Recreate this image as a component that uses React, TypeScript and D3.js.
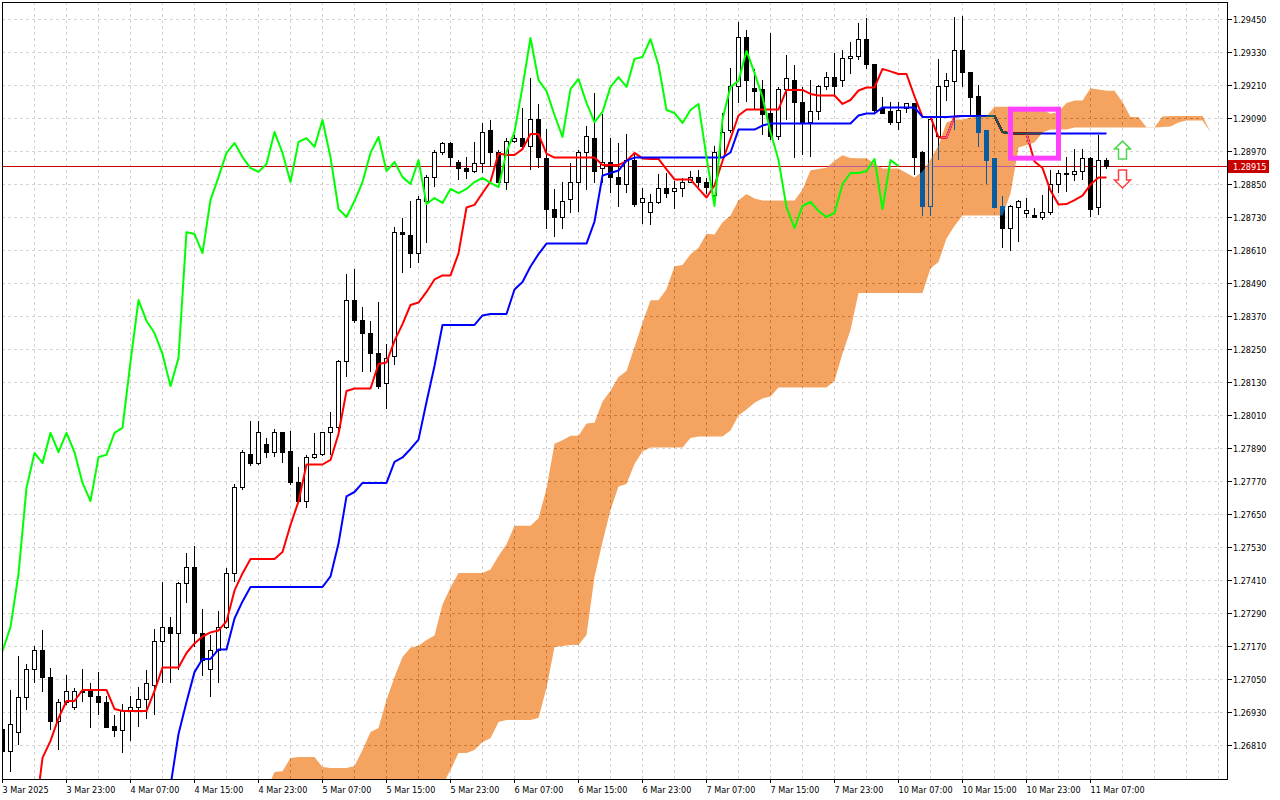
import React, { useEffect } from 'react';
import * as d3 from 'd3';

// GBPUSD H1, 3 Mar 2025 15:00 .. 11 Mar 2025 09:00 (one entry per bar)
const opens = [
  1.26868, 1.26785, 1.26854, 1.26981, 1.27083, 1.27155, 1.27054, 1.26897, 1.26963, 1.26948,
  1.27006, 1.27006, 1.26988, 1.26966, 1.26879, 1.26861, 1.26934, 1.26948, 1.26974, 1.27028,
  1.27188, 1.27239, 1.27217, 1.27399, 1.27457, 1.27217, 1.27086, 1.27152, 1.27239, 1.27432,
  1.27745, 1.27868, 1.27835, 1.27901, 1.27875, 1.27945, 1.27879, 1.27763, 1.27694, 1.27854,
  1.27865, 1.27945, 1.27963, 1.28203, 1.28428, 1.28352, 1.28308, 1.28235, 1.28126, 1.28221,
  1.28675, 1.28661, 1.28599, 1.28785, 1.28875, 1.28963, 1.28999, 1.28930, 1.28908, 1.28894,
  1.28923, 1.29046, 1.28963, 1.28857, 1.29003, 1.29017, 1.28985, 1.29083, 1.28941, 1.28759,
  1.28730, 1.28792, 1.28857, 1.28963, 1.29017, 1.28905, 1.28930, 1.28872, 1.28850, 1.28937,
  1.28781, 1.28745, 1.28781, 1.28832, 1.28821, 1.28832, 1.28857, 1.28872, 1.28854, 1.28810,
  1.28948, 1.29046, 1.29203, 1.29381, 1.29199, 1.29195, 1.29105, 1.29021, 1.29195, 1.29228,
  1.29145, 1.29075, 1.29112, 1.29203, 1.29239, 1.29225, 1.29308, 1.29312, 1.29377, 1.29283,
  1.29123, 1.29112, 1.29072, 1.29123, 1.29141, 1.28966, 1.28770, 1.29021, 1.29203, 1.29221,
  1.29334, 1.29254, 1.29170, 1.29043, 1.28941, 1.28770, 1.28690, 1.28766, 1.28741, 1.28734,
  1.28730, 1.28745, 1.28850, 1.28886, 1.28886, 1.28894, 1.28941, 1.28763, 1.28937,
];
const highs = [
  1.26883, 1.27010, 1.27134, 1.27105, 1.27170, 1.27228, 1.27090, 1.26977, 1.27065, 1.27017,
  1.27086, 1.27035, 1.27075, 1.26988, 1.26919, 1.26959, 1.26988, 1.27021, 1.27083, 1.27232,
  1.27403, 1.27275, 1.27403, 1.27508, 1.27534, 1.27305, 1.27210, 1.27297, 1.27454, 1.27759,
  1.27883, 1.27988, 1.27988, 1.27926, 1.27959, 1.27948, 1.27952, 1.27821, 1.27865, 1.27945,
  1.27948, 1.28021, 1.28210, 1.28523, 1.28541, 1.28403, 1.28352, 1.28421, 1.28268, 1.28694,
  1.28726, 1.28788, 1.28806, 1.28883, 1.28974, 1.29003, 1.29003, 1.28937, 1.28948, 1.29003,
  1.29072, 1.29083, 1.28974, 1.29017, 1.29028, 1.29126, 1.29235, 1.29141, 1.29050, 1.28832,
  1.28857, 1.28926, 1.28974, 1.29061, 1.29181, 1.29105, 1.29017, 1.28999, 1.29032, 1.28966,
  1.28835, 1.28814, 1.28886, 1.28890, 1.28861, 1.28872, 1.28897, 1.28901, 1.28872, 1.28988,
  1.29108, 1.29272, 1.29439, 1.29410, 1.29268, 1.29228, 1.29399, 1.29203, 1.29319, 1.29283,
  1.29203, 1.29228, 1.29210, 1.29257, 1.29326, 1.29337, 1.29366, 1.29435, 1.29454, 1.29286,
  1.29166, 1.29148, 1.29148, 1.29145, 1.29145, 1.28970, 1.29094, 1.29305, 1.29254, 1.29457,
  1.29461, 1.29257, 1.29210, 1.29046, 1.28945, 1.28806, 1.28774, 1.28792, 1.28799, 1.28763,
  1.28810, 1.28901, 1.28901, 1.28948, 1.28977, 1.28977, 1.28948, 1.29028, 1.28945,
];
const lows = [
  1.26712, 1.26712, 1.26810, 1.26937, 1.27035, 1.27003, 1.26865, 1.26792, 1.26955, 1.26937,
  1.26966, 1.26872, 1.26919, 1.26872, 1.26839, 1.26781, 1.26825, 1.26875, 1.26905, 1.26919,
  1.27035, 1.27035, 1.27083, 1.27326, 1.27166, 1.27061, 1.26985, 1.27035, 1.27232, 1.27403,
  1.27737, 1.27825, 1.27828, 1.27854, 1.27857, 1.27835, 1.27755, 1.27694, 1.27672, 1.27850,
  1.27861, 1.27865, 1.27955, 1.28148, 1.28345, 1.28166, 1.28166, 1.28105, 1.28032, 1.28192,
  1.28526, 1.28545, 1.28563, 1.28635, 1.28839, 1.28955, 1.28912, 1.28865, 1.28868, 1.28890,
  1.28890, 1.28912, 1.28854, 1.28828, 1.28999, 1.28981, 1.28901, 1.28908, 1.28686, 1.28657,
  1.28686, 1.28745, 1.28748, 1.28828, 1.28854, 1.28854, 1.28817, 1.28766, 1.28817, 1.28766,
  1.28705, 1.28701, 1.28777, 1.28799, 1.28759, 1.28803, 1.28854, 1.28839, 1.28814, 1.28803,
  1.28945, 1.29035, 1.29145, 1.29148, 1.29119, 1.29028, 1.29010, 1.29010, 1.29083, 1.28945,
  1.28955, 1.28948, 1.29083, 1.29192, 1.29166, 1.29203, 1.29250, 1.29301, 1.29268, 1.29108,
  1.29105, 1.29065, 1.29046, 1.29108, 1.28883, 1.28734, 1.28734, 1.28937, 1.29152, 1.29046,
  1.29203, 1.29101, 1.28985, 1.28850, 1.28763, 1.28617, 1.28606, 1.28639, 1.28726, 1.28726,
  1.28719, 1.28737, 1.28817, 1.28821, 1.28861, 1.28865, 1.28730, 1.28737, 1.28905,
];
const closes = [
  1.26785, 1.26886, 1.26981, 1.27083, 1.27155, 1.27054, 1.26897, 1.26966, 1.27003, 1.27003,
  1.27003, 1.26985, 1.26963, 1.26875, 1.26861, 1.26934, 1.26948, 1.26977, 1.27032, 1.27188,
  1.27239, 1.27217, 1.27399, 1.27457, 1.27217, 1.27119, 1.27152, 1.27239, 1.27432, 1.27745,
  1.27872, 1.27835, 1.27945, 1.27875, 1.27945, 1.27875, 1.27763, 1.27697, 1.27857, 1.27865,
  1.27945, 1.27963, 1.28203, 1.28428, 1.28352, 1.28308, 1.28232, 1.28115, 1.28217, 1.28675,
  1.28668, 1.28599, 1.28792, 1.28875, 1.28963, 1.28999, 1.28948, 1.28908, 1.28894, 1.28923,
  1.29039, 1.28963, 1.28857, 1.29003, 1.29017, 1.28985, 1.29083, 1.28948, 1.28759, 1.28730,
  1.28788, 1.28857, 1.28963, 1.29021, 1.28897, 1.28930, 1.28875, 1.28850, 1.28937, 1.28777,
  1.28799, 1.28781, 1.28832, 1.28817, 1.28832, 1.28857, 1.28872, 1.28854, 1.28839, 1.28966,
  1.29039, 1.29203, 1.29381, 1.29228, 1.29188, 1.29101, 1.29021, 1.29195, 1.29232, 1.29145,
  1.29075, 1.29112, 1.29203, 1.29239, 1.29203, 1.29305, 1.29312, 1.29377, 1.29283, 1.29119,
  1.29108, 1.29072, 1.29119, 1.29141, 1.28948, 1.28770, 1.29086, 1.29203, 1.29225, 1.29334,
  1.29254, 1.29166, 1.29039, 1.28937, 1.28766, 1.28690, 1.28770, 1.28785, 1.28752, 1.28730,
  1.28745, 1.28850, 1.28890, 1.28890, 1.28897, 1.28941, 1.28759, 1.28937, 1.28915,
];

// Ichimoku values that depend on bars left of the window, read where the lines enter the chart
const tenkanLead = [1.2653, 1.26763, 1.26825, 1.26908]; // bars 4..7
const kijunLead = [1.26661, 1.2685, 1.26966, 1.27075]; // bars 21..24
const spanALead = [
  1.26646, 1.26712, 1.26715, 1.26763, 1.26766, 1.26766, 1.26766, 1.2673, 1.26726, 1.26726,
  1.26726, 1.26734, 1.26792, 1.26857, 1.26872, 1.26974, 1.27057, 1.2713,
]; // bars 33..50
const spanBLead = [
  1.2661, 1.2661, 1.2661, 1.2661, 1.2661, 1.2661, 1.2661, 1.2661, 1.2661, 1.2661, 1.2661,
  1.2661, 1.2661, 1.2661, 1.2661, 1.2661, 1.2661, 1.2661, 1.2661, 1.2661, 1.2661, 1.2661,
  1.26664, 1.26719, 1.26781, 1.26781, 1.26792, 1.26821, 1.26835, 1.26894, 1.26901, 1.26901,
  1.26901, 1.26901, 1.26908, 1.27017, 1.27166, 1.2717, 1.27174, 1.27174, 1.2721, 1.27421,
  1.27548, 1.27665,
]; // bars 33..76

const timeLabels = [
  '3 Mar 2025', '3 Mar 23:00', '4 Mar 07:00', '4 Mar 15:00', '4 Mar 23:00', '5 Mar 07:00',
  '5 Mar 15:00', '5 Mar 23:00', '6 Mar 07:00', '6 Mar 15:00', '6 Mar 23:00', '7 Mar 07:00',
  '7 Mar 15:00', '7 Mar 23:00', '10 Mar 07:00', '10 Mar 15:00', '10 Mar 23:00', '11 Mar 07:00',
];
const priceTicks = [
  1.2681, 1.2693, 1.2705, 1.2717, 1.2729, 1.2741, 1.2753, 1.2765, 1.2777, 1.2789, 1.2801, 1.2813,
  1.2825, 1.2837, 1.2849, 1.2861, 1.2873, 1.2885, 1.2897, 1.2909, 1.2921, 1.2933, 1.2945,
];
const bidPrice = 1.28915;

// marked zone and signal arrows
const zoneBars = [126, 132];
const zonePrices = [1.29122, 1.28944];
const arrowBar = 140;
const upArrowTop = 1.29006;
const downArrowTop = 1.28901;

const SHIFT = 26;
const N = closes.length;
const W = 1280;
const H = 800;
const plot = { left: 2, top: 2, right: 1227, bottom: 779 };
const FONT = "'DejaVu Sans Condensed', 'Liberation Sans', sans-serif";

const midRange = (end: number, len: number) => {
  const s = end - len + 1;
  return ((d3.max(highs.slice(s, end + 1)) as number) + (d3.min(lows.slice(s, end + 1)) as number)) / 2;
};

const tenkan: (number | null)[] = d3.range(N).map(i =>
  i >= 8 ? midRange(i, 9) : i >= 4 ? tenkanLead[i - 4] : null
);
const kijun: (number | null)[] = d3.range(N).map(i =>
  i >= 25 ? midRange(i, 26) : i >= 21 ? kijunLead[i - 21] : null
);
const cloud = d3.range(33, N + SHIFT).map(i => {
  const j = i - SHIFT;
  const a = j >= 25 ? ((tenkan[j] as number) + (kijun[j] as number)) / 2 : spanALead[i - 33];
  const b = j >= 51 ? midRange(j, 52) : spanBLead[i - 33];
  return { i, a, b };
});
const chikou = d3.range(-1, N - SHIFT).map(i => ({ i, v: closes[i + SHIFT] }));

const App: React.FC = () => {
  useEffect(() => {
    document.body.style.margin = '0';
    document.body.style.background = '#ffffff';
  }, []);

  const x = d3.scaleLinear().domain([0, 152]).range([2.5, 1218.5]);
  const y = d3.scaleLinear().domain([1.2681, 1.2945]).range([745, 19]);

  const line = d3
    .line<number | null>()
    .defined(d => d != null)
    .x((_, i) => x(i))
    .y(d => y(d as number));

  const area = d3
    .area<{ i: number; a: number; b: number }>()
    .x(d => x(d.i))
    .y0(d => y(d.b))
    .y1(d => y(d.a));

  const chikouLine = d3
    .line<{ i: number; v: number }>()
    .x(d => x(d.i))
    .y(d => y(d.v));

  const gridX = d3.range(0, 156, 4).filter(i => x(i) < plot.right);
  const ax = x(arrowBar);
  const upY = y(upArrowTop);
  const dnY = y(downArrowTop);
  const bidY = Math.round(y(bidPrice)) + 0.5;

  return (
    <svg
      width={W}
      height={H}
      style={{ position: 'absolute', left: 0, top: 0, isolation: 'isolate' }}
      fontFamily={FONT}
    >
      <defs>
        <clipPath id="plotClip">
          <rect x={plot.left} y={plot.top} width={plot.right - plot.left} height={plot.bottom - plot.top} />
        </clipPath>
      </defs>
      <rect width={W} height={H} fill="#ffffff" />

      <g clipPath="url(#plotClip)">
        {/* the cloud blends with what is under it, so the plot needs its own white backdrop */}
        <rect x={0} y={0} width={W} height={H} fill="#ffffff" />
        <g stroke="#d4d4d4" strokeDasharray="3,3" shapeRendering="crispEdges">
          {gridX.map(i => (
            <line key={'gx' + i} x1={x(i)} x2={x(i)} y1={plot.top} y2={plot.bottom} />
          ))}
          {priceTicks.map(p => (
            <line key={'gy' + p} x1={plot.left} x2={plot.right} y1={Math.round(y(p)) + 0.5} y2={Math.round(y(p)) + 0.5} />
          ))}
        </g>

        <line x1={plot.left} x2={plot.right} y1={bidY} y2={bidY} stroke="#c80000" strokeWidth={1} />

        <g shapeRendering="crispEdges">
          {closes.map((c, i) => {
            const o = opens[i];
            const cx = x(i);
            const top = y(Math.max(o, c));
            const bot = y(Math.min(o, c));
            const bull = c >= o;
            return (
              <g key={'c' + i}>
                <line x1={cx} x2={cx} y1={y(highs[i])} y2={y(lows[i])} stroke="#000" />
                <rect
                  x={cx - 2}
                  y={top}
                  width={4}
                  height={Math.max(bot - top, 1)}
                  fill={bull ? '#ffffff' : '#000000'}
                  stroke="#000"
                  strokeWidth={1}
                />
              </g>
            );
          })}
        </g>

        <path d={line(tenkan) || ''} fill="none" stroke="#ff0000" strokeWidth={2} strokeLinejoin="round" />
        <path d={line(kijun) || ''} fill="none" stroke="#0000ff" strokeWidth={2} strokeLinejoin="round" />

        <path d={area(cloud) || ''} fill="rgb(11,91,159)" style={{ mixBlendMode: 'difference' }} />

        <path d={chikouLine(chikou) || ''} fill="none" stroke="#00ff00" strokeWidth={2} strokeLinejoin="round" />
      </g>

      <rect
        x={x(zoneBars[0])}
        y={y(zonePrices[0])}
        width={x(zoneBars[1]) - x(zoneBars[0])}
        height={y(zonePrices[1]) - y(zonePrices[0])}
        fill="none"
        stroke="#ff40ff"
        strokeWidth={5}
      />

      <path
        d={`M${ax},${upY} L${ax + 8},${upY + 8} L${ax + 4},${upY + 8} L${ax + 4},${upY + 18} L${ax - 4},${upY + 18} L${ax - 4},${upY + 8} L${ax - 8},${upY + 8} Z`}
        fill="#ffffff"
        stroke="#4fd84f"
        strokeWidth={1.5}
      />
      <path
        d={`M${ax - 4},${dnY} L${ax + 4},${dnY} L${ax + 4},${dnY + 10} L${ax + 8},${dnY + 10} L${ax},${dnY + 18} L${ax - 8},${dnY + 10} L${ax - 4},${dnY + 10} Z`}
        fill="#ffffff"
        stroke="#ff4040"
        strokeWidth={1.5}
      />

      <rect
        x={plot.left + 0.5}
        y={plot.top + 0.5}
        width={plot.right - plot.left}
        height={plot.bottom - plot.top}
        fill="none"
        stroke="#000"
        strokeWidth={1}
        shapeRendering="crispEdges"
      />

      <g fontSize={9} fill="#000">
        {priceTicks.map(p => {
          const py = Math.round(y(p)) + 0.5;
          return (
            <g key={'t' + p}>
              <line x1={plot.right + 0.5} x2={plot.right + 5} y1={py} y2={py} stroke="#000" shapeRendering="crispEdges" />
              <text x={plot.right + 6} y={py + 3.5}>
                {p.toFixed(5)}
              </text>
            </g>
          );
        })}
        {timeLabels.map((t, k) => {
          const tx = x(k * 8);
          return (
            <g key={'d' + k}>
              <line x1={tx} x2={tx} y1={plot.bottom} y2={plot.bottom + 4} stroke="#000" shapeRendering="crispEdges" />
              <text x={tx} y={793}>
                {t}
              </text>
            </g>
          );
        })}
      </g>

      <rect x={plot.right + 1} y={bidY - 6.5} width={41} height={13} fill="#c80000" />
      <text x={plot.right + 6} y={bidY + 3.5} fontSize={9} fill="#ffffff">
        {bidPrice.toFixed(5)}
      </text>
    </svg>
  );
};

export default App;
